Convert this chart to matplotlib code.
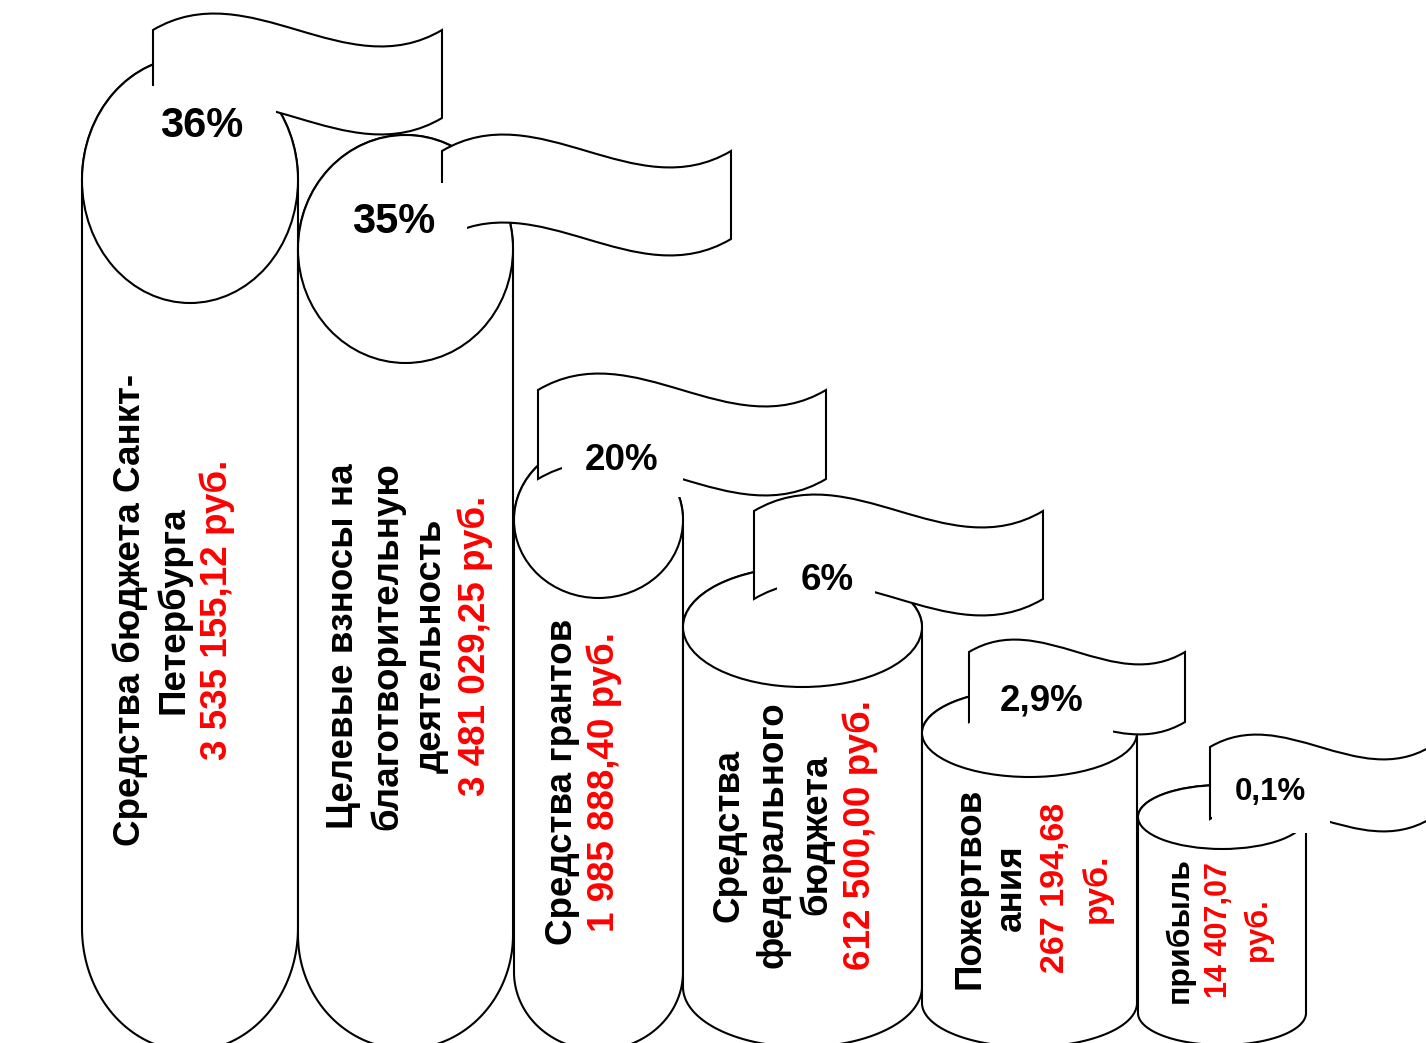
import numpy as np
import matplotlib
matplotlib.use("Agg")
import matplotlib.pyplot as plt
from matplotlib.path import Path
from matplotlib.patches import PathPatch, Ellipse, Rectangle

# ---------------- data ----------------
categories = [
    ["Средства бюджета Санкт-", "Петербурга"],
    ["Целевые взносы на", "благотворительную", "деятельность"],
    ["Средства грантов"],
    ["Средства", "федерального", "бюджета"],
    ["Пожертвов", "ания"],
    ["прибыль"],
]
shares = [36, 35, 20, 6, 2.9, 0.1]
amounts = [3535155.12, 3481029.25, 1985888.40, 612500.00, 267194.68, 14407.07]
amount_wrapped = [False, False, False, False, True, True]

# ---------------- layout (pixel space) ----------------
# cylinder: left x, right x, top-ellipse centre y, ellipse ry, bottom-ellipse centre y
CYL = [(82, 298, 180, 123, 928),
       (298, 513, 249, 114, 935),
       (514, 683, 520, 78, 972),
       (683, 922, 627, 60, 987),
       (922, 1137, 733, 44, 1003),
       (1138, 1306, 817, 32, 1013)]
# flag: left x, top-left y, width, height, wave control offset
FLAG = [(153, 30, 289, 88, 57),
        (442, 151, 289, 88, 57),
        (538, 390, 288, 89, 57),
        (754, 511, 289, 88, 57),
        (969, 652, 216, 70, 43),
        (1210, 747, 220, 72, 43)]
# percent label centre and font size
PCT = [(202, 122, 30), (394, 218, 30), (622, 457, 26.5),
       (827, 577, 26.5), (1042, 697, 26.5), (1270, 789, 22.5)]
# white text-box masks: x0, y0, x1, y1
MASK = [(150, 86, 276, 150), (345, 183, 467, 250), (562, 420, 683, 497),
        (777, 560, 875, 612), (970, 680, 1113, 740), (1212, 765, 1330, 833)]
# vertical text: first baseline x, line step, centre y, font size (black, red)
TXT = [(140, 43.5, 610, 26.5, 26.5),
       (353, 44.0, 646, 26.5, 26.5),
       (572, 42.0, 782, 26.5, 26.5),
       (738, 44.0, 835, 26.5, 26.5),
       (979, 42.3, 888, 26.5, 24.5),
       (1188, 39.0, 930, 23.0, 22.0)]

FONT = "Liberation Sans"
LW = 1.5
PX = 100 / 72.0


def fmt_amount(v):
    return f"{v:,.2f}".replace(",", " ").replace(".", ",")


def fmt_share(v):
    return f"{v:g}".replace(".", ",") + "%"


def arc(cx, cy, rx, ry, t0, t1, n=120):
    t = np.linspace(t0, t1, n)
    return np.column_stack([cx + rx * np.cos(t), cy + ry * np.sin(t)])


fig = plt.figure(figsize=(14.26, 10.43), dpi=100)
ax = fig.add_axes([0, 0, 1, 1])
ax.set_xlim(0, 1426)
ax.set_ylim(1043, 0)
ax.axis("off")

for i in range(len(categories)):
    xl, xr, yt, ry, yb = CYL[i]
    cx = (xl + xr) / 2
    rx = (xr - xl) / 2
    # body silhouette (y axis points down: +sin is downward)
    bottom = arc(cx, yb, rx, ry, np.pi, 0.0)
    top = arc(cx, yt, rx, ry, 0.0, -np.pi)
    verts = np.vstack([[xl, yt], [xl, yb], bottom, [xr, yb], [xr, yt], top, [xl, yt]])
    codes = [Path.MOVETO] + [Path.LINETO] * (len(verts) - 2) + [Path.CLOSEPOLY]
    ax.add_patch(PathPatch(Path(verts, codes), facecolor="white",
                           edgecolor="black", lw=LW, zorder=2 + 4 * i))
    ax.add_patch(Ellipse((cx, yt), 2 * rx, 2 * ry, facecolor="white",
                         edgecolor="black", lw=LW, zorder=2.1 + 4 * i))

    # flag
    fx, fy, fw, fh, c = FLAG[i]
    fverts = [(fx, fy),
              (fx + fw / 3, fy - c), (fx + 2 * fw / 3, fy + c), (fx + fw, fy),
              (fx + fw, fy + fh),
              (fx + 2 * fw / 3, fy + fh + c), (fx + fw / 3, fy + fh - c), (fx, fy + fh),
              (fx, fy)]
    fcodes = [Path.MOVETO, Path.CURVE4, Path.CURVE4, Path.CURVE4, Path.LINETO,
              Path.CURVE4, Path.CURVE4, Path.CURVE4, Path.CLOSEPOLY]
    ax.add_patch(PathPatch(Path(fverts, fcodes), facecolor="white",
                           edgecolor="black", lw=LW, zorder=2.2 + 4 * i))
    mx0, my0, mx1, my1 = MASK[i]
    ax.add_patch(Rectangle((mx0, my0), mx1 - mx0, my1 - my0, facecolor="white",
                           edgecolor="none", zorder=2.3 + 4 * i))
    px, py, pfs = PCT[i]
    ax.text(px, py + 0.358 * pfs * PX, fmt_share(shares[i]), ha="center",
            va="baseline", fontsize=pfs, fontweight="bold", family=FONT,
            color="black", zorder=2.4 + 4 * i)

    # vertical labels
    bx, step, cy, fs_b, fs_r = TXT[i]
    lines = [(s, "black", fs_b) for s in categories[i]]
    amt = fmt_amount(amounts[i])
    if amount_wrapped[i]:
        lines += [(amt, "red", fs_r), ("руб.", "red", fs_r)]
    else:
        lines += [(amt + " руб.", "red", fs_r)]
    for k, (s, col, fs) in enumerate(lines):
        ax.text(bx + k * step, cy, s, rotation=90, rotation_mode="anchor",
                ha="center", va="baseline", fontsize=fs, fontweight="bold",
                family=FONT, color=col, zorder=2.5 + 4 * i)

fig.savefig("out.png", dpi=100, facecolor="white")
